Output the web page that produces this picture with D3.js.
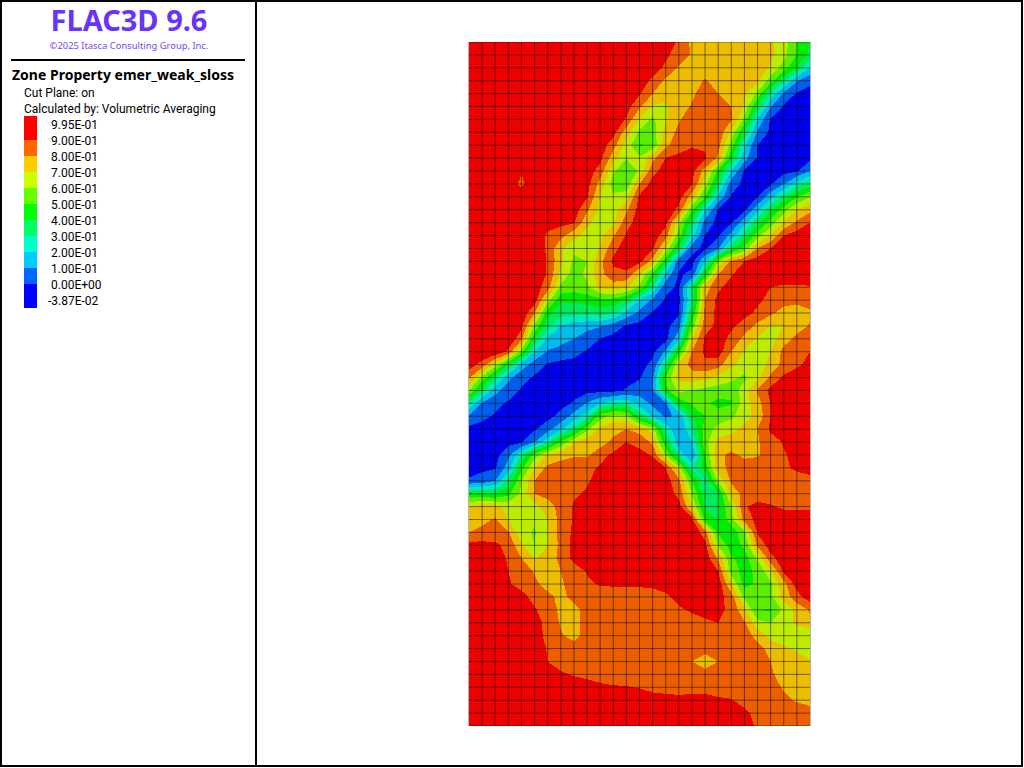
<!DOCTYPE html>
<html><head><meta charset="utf-8">
<script src="https://cdn.jsdelivr.net/npm/d3@7"></script>
<style>html,body{margin:0;padding:0;background:#fff;overflow:hidden}svg{display:block}text{font-family:Roboto,"Noto Sans",sans-serif}</style>
</head><body><svg id="c" width="1024" height="768"></svg>
<script>
const titleText = "FLAC3D 9.6";
const copyrightText = "©2025 Itasca Consulting Group, Inc.";
const headingText = "Zone Property emer_weak_sloss";
const infoLines = ["Cut Plane: on", "Calculated by: Volumetric Averaging"];
const legendLabels = ["9.95E-01","9.00E-01","8.00E-01","7.00E-01","6.00E-01","5.00E-01","4.00E-01","3.00E-01","2.00E-01","1.00E-01","0.00E+00","-3.87E-02"];
const legendColors = ["#ff0000","#ff6600","#ffcc00","#ccff00","#66ff00","#00ff00","#00ff66","#00ffcc","#00ccff","#0066ff","#0000ff"];
const plotColors = ["#ec0000","#ec5e00","#ecbd00","#bdec00","#5eec00","#00ec00","#00ec5e","#00ecbd","#00bdec","#005eec","#0000ec"];
const bandFloors = [90,80,70,60,50,40,30,20,10,0];
const zoneValues = [
[98,98,98,98,98,98,98,98,98,98,98,98,98,98,98,97,88,78,75,75,75,75,74,72,65,50,40],
[98,98,98,98,98,98,98,98,98,98,98,98,98,98,98,92,85,79,75,75,75,75,74,72,63,50,37],
[98,98,98,98,98,98,98,98,98,98,98,98,98,98,95,88,79,75,75,75,75,75,74,69,55,40,20],
[98,98,98,98,98,98,98,98,98,98,98,98,98,95,88,78,75,75,81,76,75,73,72,55,32,11,2],
[98,98,98,98,98,98,98,98,98,98,98,98,97,91,80,72,72,78,85,80,76,72,58,28,8,-1,-3],
[98,98,98,98,98,98,98,98,98,98,98,98,94,82,69,69,76,81,85,85,80,69,38,11,-1,-3,-3],
[98,98,98,98,98,98,98,98,98,98,98,97,89,68,58,68,79,85,86,86,81,58,18,-1,-3,-3,-3],
[98,98,98,98,98,98,98,98,98,98,98,94,74,58,55,73,83,87,88,87,68,38,9,-2,-3,-3,-3],
[98,98,98,98,98,98,98,98,98,98,96,84,66,49,52,78,85,89,89,84,55,22,0,-2,-3,-3,-3],
[98,98,98,98,98,98,98,98,98,98,93,74,61,62,77,90,93,94,91,78,42,14,-1,-3,-3,-3,-3],
[98,98,98,98,91,98,98,98,98,95,86,62,49,62,87,94,95,93,76,48,20,-1,-3,-3,-3,-1,11],
[98,98,98,98,87,98,98,98,98,94,76,55,53,80,94,96,96,91,64,35,4,-2,-3,-1,10,25,35],
[98,98,98,98,98,98,98,98,97,91,70,62,66,92,96,96,94,75,50,18,-1,-3,0,17,33,49,60],
[98,98,98,98,98,98,98,98,95,82,67,66,78,94,96,95,88,53,22,-1,-3,-2,17,38,56,70,77],
[98,98,98,98,98,98,94,93,91,72,66,68,86,95,96,93,63,34,6,-3,-1,17,37,55,71,82,90],
[98,98,98,98,98,99,88,83,73,67,67,79,91,96,96,84,55,25,0,-1,14,34,56,71,90,95,97],
[98,98,98,98,98,98,88,72,62,62,71,87,95,97,91,68,38,3,-2,9,36,53,80,90,91,96,98],
[98,98,98,98,98,98,89,72,58,60,77,92,97,93,76,42,4,-3,20,60,82,90,95,97,97,98,98],
[98,98,98,98,98,97,89,67,56,62,77,87,87,70,48,18,-1,2,44,80,89,96,98,98,98,98,98],
[98,98,98,98,98,95,85,58,55,58,72,75,72,58,30,2,-1,35,75,88,94,98,97,90,88,88,89],
[98,98,98,98,98,95,65,42,42,44,47,47,39,20,8,-1,-2,30,80,93,97,98,92,87,84,83,85],
[98,98,98,98,98,80,43,34,33,33,35,31,17,7,-1,-3,-1,40,83,93,97,93,88,82,76,74,78],
[98,98,98,98,93,58,34,20,15,13,11,5,-1,-3,-3,-3,6,55,85,93,92,86,77,69.5,70,75,81],
[98,98,98,98,83,40,19,14,10,5,0,-3,-3,-3,-3,-3,18,70,92,95,87,77,69,66,76,83,86],
[98,98,98,88,55,20,9,6,3,-1,-3,-3,-3,-3,-2,12,47,80,92,95,80,69,65,70,83,88,90],
[95,86,66,40,16,5,-1,-3,-3,-3,-3,-3,-3,-3,2,33,72,84,88,84,72,66,63,74,83,88,93],
[82,57,34,13,3,-1,-3,-3,-3,-3,-3,-3,-3,-1,8,52,73,75,73,68,63,58,67,82,92,96,97],
[60,34,14,4,-1,-3,-3,-3,-3,-3,-3,-3,1,5,9,47,63,60,57,55,53,66,81,93,98,98,98],
[30,9,2,-1,-3,-3,-3,-3,1,11,20,27,28,16,8,8,42,52,52,47,49,65,76,90,97,97,97],
[9,2,-1,-3,-3,-3,-3,3,14,25,55,65,62,37,19,8,12,38,50,55,58,66,73,90,97,97,97],
[-3,-3,-3,-3,-3,-1,6,18,33,58,72,76,80,76,65,28,10,30,55,63,67,73,80,92,97,97,97],
[-3,-3,-3,-3,-1,10,27,52,69,75,75,83,90,87,78,42,13,20,56,73,75,76,79,85,91,96,97],
[-3,-3,-3,7,30,55,70,76,79,78,87,92,96,93,89,60,28,9,50,78,82,78,79,84,89,93,96],
[-3,-2,-1,15,47,70,83,85,85,88,91,96,97,97,96,90,66,28,44,76,83,85,85,86,88,92,95],
[1,4,10,32,60,80,84,85,87,89,93,97,98,98,97,94,83,50,29,62,82,84,85,85,85,85,86],
[42,40,40,47,62,80,84,86,89,91,94,97,97,97,97,96,87,60,35,38,74,83,85,85,85,85,86],
[70,75,73,67,63,67,75,84,91,95,98,98,98,98,98,98,94,70,38,39,60,89,93,91,88,87,88],
[72,77,81,69,63,61,70,84,91,96,98,98,98,98,98,98,98,93,48,39,56,84,93,97,97,97,97],
[80,83,85,81,63,59,70,84,92,97,98,98,98,98,98,98,98,98,85,48,43,58,91,98,98,98,98],
[94,93,92,87,72,60,70,83,93,97,98,98,98,98,98,98,98,98,93,60,45,52,82,95,98,98,98],
[98,98,98,88,80,69,74,83,93,97,98,98,98,98,98,98,98,98,96,78,52,45,62,87,95,98,98],
[98,98,97,90,85,79,75,80,85,91,96,98,98,98,98,98,98,98,97,90,55,47,52,68,92,97,98],
[98,98,98,91,87,82,76,79,83,88,91,91,91,91,91,92,95,97,97,96,70,46,52,58,77,94,98],
[98,98,98,97,93,87,83,77,83,85,85,86,87,87,88,89,92,95,96,94,85,58,50,58,74,86,96],
[98,98,98,98,96,91,85,78,77,83,85,85,85,85,86,88,89,91,94,92,88,72,50,49,62,74,81],
[98,98,98,98,98,94,87,79,77,84,85,85,85,85,85,85,86,87,88,90,86,81,63,60,65,72,78],
[98,98,98,98,98,95,87,81,77,83,85,85,85,85,85,85,85,85,85,85,85,84,77,66,63,62,60],
[98,98,98,98,98,97,89,84,84,84,85,85,85,85,85,85,85,85,83,85,85,85,83,77,72,68,65],
[98,98,98,98,98,98,90,84,84,84,85,85,85,85,85,85,85,80,76,80,84,85,85,80,77,75,71],
[98,98,98,98,98,98,95,92,89,87,86,85,85,85,85,85,85,85,83,85,85,85,84,81,77,75,75],
[98,98,98,98,98,98,98,97,96,95,92,91,90.5,89.5,88,87,87,88,88,87,86,85,85,84,79,75,74],
[98,98,98,98,98,98,98,98,98,98,98,98,98,95,93,93,92,92,92,91,90.5,87,85,85,82,79,76],
[98,98,98,98,98,98,98,98,98,98,98,98,98,98,98,98,98,98,98,98,96,92,87,85,85,85,85],
[98,98,98,98,98,98,98,98,98,98,98,98,98,98,98,98,98,98,98,98,98,96,88,85,85,85,85]
];
const nRows = zoneValues.length, nCols = zoneValues[0].length;
const svg = d3.select("#c");
const x = d3.scaleLinear().domain([0, nCols-1]).range([469, 810]);
const y = d3.scaleLinear().domain([0, nRows-1]).range([42, 726]);
svg.append("clipPath").attr("id","plot").append("rect")
  .attr("x",x(0)).attr("y",y(0)).attr("width",x(nCols-1)-x(0)).attr("height",y(nRows-1)-y(0));
const g = svg.append("g").attr("clip-path","url(#plot)");
g.append("rect").attr("x",x(0)).attr("y",y(0)).attr("width",x(nCols-1)-x(0)).attr("height",y(nRows-1)-y(0)).attr("fill",plotColors[10]);
const contourGen = d3.contours().size([nCols,nRows]).thresholds(bandFloors.slice().reverse());
const bands = contourGen(zoneValues.flat());
const path = d3.geoPath(d3.geoTransform({point(px,py){this.stream.point(x(px-0.5),y(py-0.5));}}));
const colorOf = d3.scaleOrdinal().domain(bandFloors).range(plotColors);
g.selectAll("path.band").data(bands).join("path").attr("class","band")
  .attr("d",path).attr("fill",d=>colorOf(d.value)).attr("shape-rendering","crispEdges");
g.selectAll("line.v").data(d3.range(1,nCols-1)).join("line").attr("class","v")
  .attr("x1",d=>x(d)).attr("x2",d=>x(d)).attr("y1",y(0)).attr("y2",y(nRows-1))
  .attr("stroke","#000").attr("stroke-opacity",0.5).attr("stroke-width",1);
g.selectAll("line.h").data(d3.range(0,nRows)).join("line").attr("class","h")
  .attr("y1",d=>y(d)).attr("y2",d=>y(d)).attr("x1",x(0)).attr("x2",x(nCols-1))
  .attr("stroke","#000").attr("stroke-opacity",0.5).attr("stroke-width",1);
svg.selectAll("line.edge").data([0,nCols-1]).join("line").attr("class","edge")
  .attr("x1",d=>x(d)+(d?0.5:-0.5)).attr("x2",d=>x(d)+(d?0.5:-0.5)).attr("y1",y(0)).attr("y2",y(nRows-1))
  .attr("stroke","#b4b8bc");
// frame
const lines=[[1,0,1,767],[1022,0,1022,767],[0,1,1023,1],[0,766,1023,766],[256,0,256,767],[11,60,245,60]];
svg.selectAll("line.f").data(lines).join("line").attr("class","f")
 .attr("x1",d=>d[0]).attr("y1",d=>d[1]).attr("x2",d=>d[2]).attr("y2",d=>d[3]).attr("stroke","#000").attr("stroke-width",2);
svg.append("text").text(titleText).attr("x",129).attr("y",31).attr("text-anchor","middle")
 .style("font-family","'Noto Sans'").attr("font-size",29).attr("font-weight",700).attr("fill","#6633ff");
svg.append("text").text(copyrightText).attr("x",129).attr("y",49).attr("text-anchor","middle")
 .style("font-family","'Noto Sans'").attr("font-size",9.4).attr("fill","#7a45f5");
svg.append("text").text(headingText).attr("x",12).attr("y",80).style("font-family","'Noto Sans'").attr("font-size",14).attr("font-weight",700).attr("fill","#000");
svg.selectAll("text.info").data(infoLines).join("text").attr("class","info").text(d=>d)
 .attr("x",24).attr("y",(d,i)=>97+i*16).attr("font-size",12).attr("fill","#000");
const swatchY = d3.scaleLinear().domain([0,1]).range([140,156]);
svg.selectAll("rect.sw").data(legendColors).join("rect").attr("class","sw")
 .attr("x",24).attr("width",13)
 .attr("y",(d,i)=>i===0?116:swatchY(i-1))
 .attr("height",(d,i)=>(i===0||i===10)?24:16).attr("fill",d=>d);
svg.selectAll("text.lab").data(legendLabels).join("text").attr("class","lab").text(d=>d)
 .attr("x",(d)=>d.startsWith("-")?48:51).attr("y",(d,i)=>129+i*16).attr("font-size",12).attr("fill","#000");
</script></body></html>
